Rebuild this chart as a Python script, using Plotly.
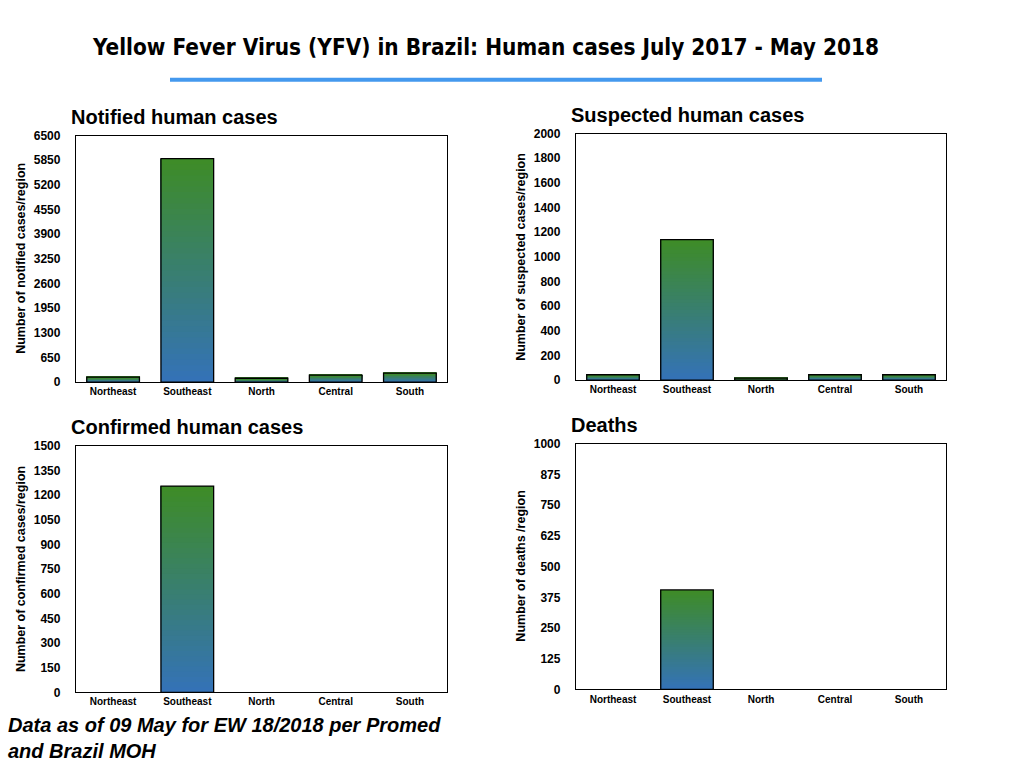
import plotly.graph_objects as go

regions = ["Northeast", "Southeast", "North", "Central", "South"]
notified = [130, 5895, 100, 185, 235]
suspected = [43, 1140, 15, 43, 43]
confirmed = [0, 1255, 0, 0, 0]
deaths = [0, 405, 0, 0, 0]

panels = [
    dict(title="Notified human cases", ytitle="Number of notified cases/region",
         values=notified, ymax=6500, dtick=650,
         xd=(76, 447), yd=(135, 382)),
    dict(title="Suspected human cases", ytitle="Number of suspected cases/region",
         values=suspected, ymax=2000, dtick=200,
         xd=(576, 946), yd=(133, 380)),
    dict(title="Confirmed human cases", ytitle="Number of confirmed cases/region",
         values=confirmed, ymax=1500, dtick=150,
         xd=(76, 447), yd=(446, 693)),
    dict(title="Deaths", ytitle="Number of deaths /region",
         values=deaths, ymax=1000, dtick=125,
         xd=(576, 946), yd=(444, 690)),
]

W, H = 1024, 768
BOTTOM_RGB = (52, 114, 184)
TOP_RGB = (62, 140, 38)
NSEG = 40
FONT = "Liberation Sans, Arial, Helvetica, sans-serif"


def py(y):
    # screen pixel (from top) -> paper fraction, compensating observed vertical scaling
    return 1 - ((y - 6.1) / 0.984) / H


fig = go.Figure()
layout = dict(
    width=W, height=H, margin=dict(l=0, r=0, t=0, b=0),
    paper_bgcolor="white", plot_bgcolor="white", showlegend=False,
    barmode="overlay", bargap=0.29,
    font=dict(family=FONT, color="black"),
)
annotations = []
shapes = []

for i, p in enumerate(panels):
    n = "" if i == 0 else str(i + 1)
    xa, ya = "x" + n, "y" + n
    vals = p["values"]
    # gradient: overlapping segments, each from its base up to the bar top
    for k in range(NSEG):
        t = (k + 0.5) / NSEG
        c = tuple(round(BOTTOM_RGB[j] + (TOP_RGB[j] - BOTTOM_RGB[j]) * t) for j in range(3))
        fig.add_trace(go.Bar(
            x=regions,
            y=[v * (NSEG - k) / NSEG if v > 0 else None for v in vals],
            base=[v * k / NSEG for v in vals],
            marker=dict(color="rgb(%d,%d,%d)" % c, line=dict(width=0)),
            xaxis=xa, yaxis=ya, hoverinfo="skip",
        ))
    # outline
    fig.add_trace(go.Bar(
        x=regions, y=[v if v > 0 else None for v in vals],
        marker=dict(color="rgba(0,0,0,0)", line=dict(color="black", width=1.3)),
        xaxis=xa, yaxis=ya,
    ))
    x0, x1 = p["xd"]
    y0, y1 = p["yd"]
    layout["xaxis" + n] = dict(
        domain=[x0 / W, x1 / W], anchor=ya,
        showline=True, linecolor="black", linewidth=1.3, mirror=True,
        showgrid=False, zeroline=False, ticks="",
        tickfont=dict(size=10, weight="bold", family=FONT),
        fixedrange=True,
    )
    layout["yaxis" + n] = dict(
        domain=[py(y1), py(y0)], anchor=xa,
        range=[0, p["ymax"]], tick0=0, dtick=p["dtick"],
        showline=True, linecolor="black", linewidth=1.3, mirror=True,
        showgrid=False, zeroline=False, ticks="",
        ticklabelstandoff=12,
        tickfont=dict(size=12, weight="bold", family=FONT),
        fixedrange=True,
    )
    annotations.append(dict(
        text=p["title"], xref="paper", yref="paper",
        x=(x0 - 7) / W, y=py(y0 - 19), xanchor="left", yanchor="middle",
        showarrow=False, font=dict(size=20, weight="bold", family=FONT),
    ))
    annotations.append(dict(
        text=p["ytitle"], xref="paper", yref="paper",
        x=(x0 - 55) / W, y=py((y0 + y1) / 2), xanchor="center", yanchor="middle",
        textangle=-90, showarrow=False, font=dict(size=12.5, weight="bold", family=FONT),
    ))

annotations.append(dict(
    text="Yellow Fever Virus (YFV) in Brazil: Human cases July 2017 - May 2018",
    xref="paper", yref="paper", x=485 / W, y=py(46),
    xanchor="center", yanchor="middle", showarrow=False,
    font=dict(size=22.4, weight="bold",
              family="Liberation Sans Narrow, DejaVu Sans Condensed, Liberation Sans, sans-serif"),
))
annotations.append(dict(
    text="Data as of 09 May for EW 18/2018 per Promed<br>and Brazil MOH",
    xref="paper", yref="paper", x=6 / W, y=py(739),
    xanchor="left", yanchor="middle", align="left", showarrow=False,
    font=dict(size=20, weight="bold", style="italic", family=FONT),
))
shapes.append(dict(
    type="line", xref="paper", yref="paper",
    x0=170 / W, x1=822 / W, y0=py(79), y1=py(79),
    line=dict(color="#4499EE", width=4),
))
layout["annotations"] = annotations
layout["shapes"] = shapes
fig.update_layout(**layout)

fig.write_html("out.html", config={"displayModeBar": False},
               post_script="document.body.style.margin='0';")
